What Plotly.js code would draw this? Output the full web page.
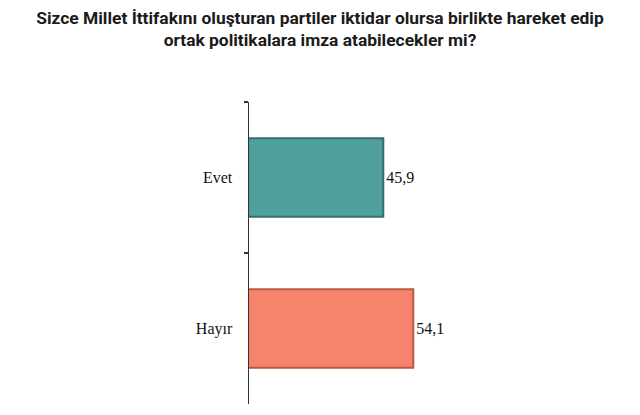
<!DOCTYPE html>
<html>
<head>
<meta charset="utf-8">
<script src="https://cdn.plot.ly/plotly-3.0.1.min.js"></script>
<style>html,body{margin:0;padding:0;background:#fff;}#chart{width:640px;height:415px;}</style>
</head>
<body>
<div id="chart"></div>
<script>
const categories = ["Evet", "Hayır"];
const values = [45.9, 54.1];
const fillColors = ["#4f9f9a", "#f8836d"];
const edgeColors = ["#336f6c", "#b85a44"];
const titleText = "Sizce Millet İttifakını oluşturan partiler iktidar olursa birlikte hareket edip<br>ortak politikalara imza atabilecekler mi?";

const trace = {
  type: "bar",
  orientation: "h",
  y: categories,
  x: values,
  width: 0.52,
  marker: { color: fillColors, line: { color: edgeColors, width: 2 } },
  text: values.map(v => v.toFixed(1).replace(".", ",")),
  textposition: "outside",
  cliponaxis: false,
  textfont: { family: "Liberation Serif", size: 16, color: "#111" },
  hoverinfo: "skip"
};

const layout = {
  width: 640, height: 415,
  margin: { l: 249, r: 99, t: 102, b: 11 },
  paper_bgcolor: "#fff", plot_bgcolor: "#fff",
  separators: ",.",
  showlegend: false,
  title: {
    text: titleText,
    font: { family: "Roboto", size: 17.4, color: "#1a1a1a", weight: "bold" },
    x: 0.5, xanchor: "center", y: 0.943, yanchor: "top", yref: "container"
  },
  xaxis: { range: [9.2, 89], visible: false, fixedrange: true },
  yaxis: {
    type: "category",
    autorange: "reversed",
    showline: true, linecolor: "#333", linewidth: 1.5,
    ticks: "outside", tickson: "boundaries", ticklen: 4, tickcolor: "#333", tickwidth: 1.5,
    ticklabelstandoff: 12,
    tickfont: { family: "Liberation Serif", size: 16, color: "#111" },
    showgrid: false, zeroline: false, fixedrange: true
  }
};

Plotly.newPlot("chart", [trace], layout, { displayModeBar: false, staticPlot: true });
</script>
</body>
</html>
